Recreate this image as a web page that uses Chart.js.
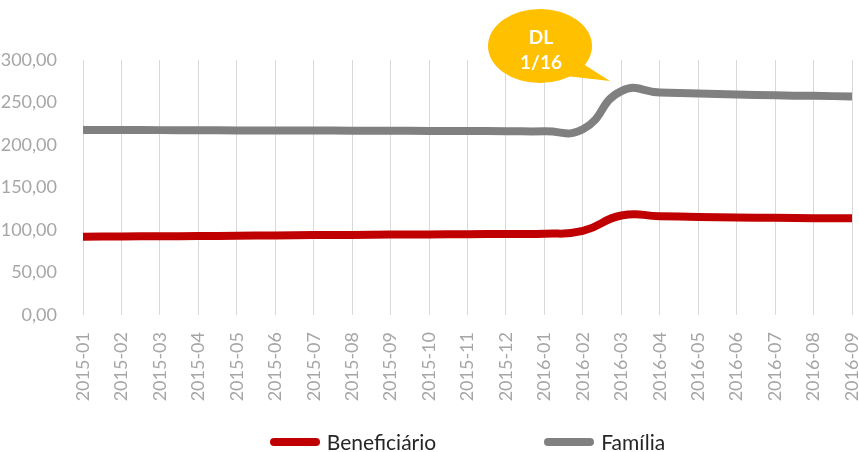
<!DOCTYPE html>
<html lang="pt">
<head>
<meta charset="UTF-8">
<title>Beneficiário x Família</title>
<script src="https://cdn.jsdelivr.net/npm/chart.js"></script>
<style>
    body { margin: 0; background: #fff; }
    #caixa { position: relative; width: 859px; height: 452px; }
    #legenda {
        position: absolute; top: 429px; display: flex; justify-content: center; gap: 108px;
        font-family: Lato, sans-serif; font-size: 21px; color: #262626;
    }
    #legenda .item { display: flex; align-items: center; }
    #legenda .marca { width: 50px; height: 8px; border-radius: 4px; margin-right: 7px; }
</style>
</head>
<body>
<div id="caixa">
    <canvas id="grafico" width="859" height="452"></canvas>
    <div id="legenda"></div>
</div>
<script>
    // dados
    const meses = ['2015-01', '2015-02', '2015-03', '2015-04', '2015-05', '2015-06', '2015-07',
        '2015-08', '2015-09', '2015-10', '2015-11', '2015-12', '2016-01', '2016-02', '2016-03',
        '2016-04', '2016-05', '2016-06', '2016-07', '2016-08', '2016-09'];
    const beneficiario = [92.0, 92.4, 92.6, 92.8, 93.2, 93.6, 94.0, 94.2, 94.6, 94.8, 95.0,
        95.4, 95.6, 99.0, 117.0, 116.3, 115.3, 114.7, 114.3, 113.9, 113.7];
    const familia = [217.6, 217.6, 217.5, 217.4, 217.1, 217.0, 217.0, 216.9, 216.8, 216.5,
        216.4, 216.3, 216.1, 218.5, 263.5, 261.8, 260.6, 259.4, 258.4, 257.8, 257.2];
    const ticksY = ['0,00', '50,00', '100,00', '150,00', '200,00', '250,00', '300,00'];
    const balao = ['DL', '1/16'];

    // balao amarelo "DL 1/16"
    const pluginBalao = {
        id: 'balao',
        afterDraw(chart) {
            const ctx = chart.ctx;
            const cx = 540, cy = 46;
            ctx.save();
            ctx.fillStyle = '#FFC000';
            ctx.beginPath();
            ctx.ellipse(cx, cy, 52, 37, 0, 0, Math.PI * 2);
            ctx.fill();
            ctx.beginPath();
            ctx.moveTo(580, 62);
            ctx.lineTo(610, 81);
            ctx.lineTo(566, 76);
            ctx.closePath();
            ctx.fill();
            ctx.fillStyle = '#fff';
            ctx.font = 'bold 19px Lato';
            ctx.textAlign = 'center';
            ctx.textBaseline = 'middle';
            ctx.fillText(balao[0], cx + 1, cy - 8);
            ctx.fillText(balao[1], cx + 1, cy + 17);
            ctx.restore();
        }
    };

    const dados = {
        labels: meses,
        datasets: [{
            label: 'Beneficiário',
            data: beneficiario,
            borderColor: '#C00000',
            backgroundColor: '#C00000',
            borderWidth: 8,
            pointRadius: 0,
            tension: 0.5
        }, {
            label: 'Família',
            data: familia,
            borderColor: '#808080',
            backgroundColor: '#808080',
            borderWidth: 8,
            pointRadius: 0,
            tension: 0.5
        }]
    };

    const config = {
        type: 'line',
        data: dados,
        options: {
            responsive: false,
            animation: false,
            layout: { padding: { top: 60, right: 7, bottom: 0, left: 0 } },
            plugins: {
                legend: { display: false },
                tooltip: { enabled: false }
            },
            scales: {
                x: {
                    grid: { color: '#D9D9D9', drawTicks: false },
                    border: { display: false },
                    ticks: {
                        autoSkip: false, minRotation: 90, maxRotation: 90, padding: 17,
                        color: '#A6A6A6', font: { family: 'Lato', size: 18 }
                    },
                    afterFit(scale) {
                        scale.height = 137;
                        scale.paddingLeft = 0;
                        scale.paddingRight = 0;
                    }
                },
                y: {
                    min: 0, max: 300,
                    grid: { display: false },
                    border: { display: false },
                    ticks: {
                        stepSize: 50, padding: 18, color: '#A6A6A6',
                        font: { family: 'Lato', size: 18 },
                        callback: (v, i) => ticksY[i]
                    },
                    afterFit(scale) { scale.width = 83; }
                }
            }
        },
        plugins: [pluginBalao]
    };

    const grafico = new Chart(document.getElementById('grafico'), config);

    // legenda em html, igual ao excel
    const legenda = document.getElementById('legenda');
    legenda.style.left = grafico.chartArea.left + 'px';
    legenda.style.width = (grafico.chartArea.right - grafico.chartArea.left) + 'px';
    grafico.data.datasets.forEach(ds => {
        legenda.innerHTML += `<div class="item"><span class="marca" style="background:${ds.borderColor}"></span>${ds.label}</div>`;
    });
</script>
</body>
</html>
